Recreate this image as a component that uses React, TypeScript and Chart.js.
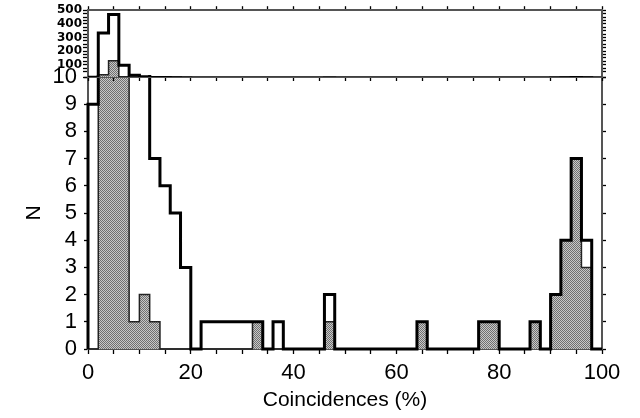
import React, { useEffect, useRef } from "react";
import { Chart, registerables } from "chart.js";

Chart.register(...registerables);

const BIN_WIDTH = 2;

// counts per 2% bin: 0-2, 2-4, ... 98-100
const allCounts = [
  9, 333, 468, 96, 22, 12, 7, 6, 5, 3,
  0, 1, 1, 1, 1, 1, 1, 0, 1, 0,
  0, 0, 0, 2, 0, 0, 0, 0, 0, 0,
  0, 0, 1, 0, 0, 0, 0, 0, 1, 1,
  0, 0, 0, 1, 0, 2, 4, 7, 4, 0,
];
const shadedCounts = [
  0, 26, 130, 12, 1, 2, 1, 0, 0, 0,
  0, 0, 0, 0, 0, 0, 1, 0, 0, 0,
  0, 0, 0, 1, 0, 0, 0, 0, 0, 0,
  0, 0, 1, 0, 0, 0, 0, 0, 1, 1,
  0, 0, 0, 1, 0, 2, 4, 7, 3, 0,
];

const xTickLabels = [0, 20, 40, 60, 80, 100];
const mainYTickLabels = [0, 1, 2, 3, 4, 5, 6, 7, 8, 9, 10];
const topYTickLabels = [100, 200, 300, 400, 500];

const FONT = "'Liberation Sans', Arial, sans-serif";
const AXIS = "#555";

// outline of a histogram as step points at the bin edges
const steps = (counts: number[]) => [
  { x: 0, y: 0 },
  ...counts.map((c, i) => ({ x: i * BIN_WIDTH, y: c })),
  { x: counts.length * BIN_WIDTH, y: 0 },
];

const makePattern = () => {
  const c = document.createElement("canvas");
  c.width = 2;
  c.height = 2;
  const g = c.getContext("2d")!;
  g.fillStyle = "#c8c8c8";
  g.fillRect(0, 0, 2, 2);
  g.fillStyle = "#707070";
  g.fillRect(0, 0, 1, 1);
  g.fillRect(1, 1, 1, 1);
  return g.createPattern(c, "repeat")!;
};

const makeDatasets = (pattern: CanvasPattern, clip: any): any[] => [
  {
    label: "all",
    data: steps(allCounts),
    stepped: true,
    borderColor: "#000",
    borderWidth: 3,
    borderJoinStyle: "miter",
    pointRadius: 0,
    fill: false,
    order: 0,
    clip,
  },
  {
    label: "shaded",
    data: steps(shadedCounts),
    stepped: true,
    borderColor: "#222",
    borderWidth: 1.5,
    backgroundColor: pattern,
    pointRadius: 0,
    fill: "origin",
    order: 1,
    clip,
  },
];

const grid = (tickLength: number) => ({
  drawOnChartArea: false,
  drawTicks: true,
  tickLength,
  tickColor: "#000",
  tickWidth: 1.3,
});
const border = { display: true, color: AXIS, width: 2 };

const baseOptions = {
  animation: false,
  responsive: false,
  maintainAspectRatio: false,
  events: [],
  plugins: { legend: { display: false }, tooltip: { enabled: false } },
};

const mainConfig = (pattern: CanvasPattern): any => ({
  type: "line",
  data: { datasets: makeDatasets(pattern, 2) },
  options: {
    ...baseOptions,
    layout: { padding: { top: 77, left: 0, right: 0, bottom: 0 } },
    scales: {
      x: {
        type: "linear",
        position: "bottom",
        min: 0,
        max: 100,
        ticks: {
          stepSize: 5,
          autoSkip: false,
          maxRotation: 0,
          padding: 6,
          color: "#000",
          font: { family: FONT, size: 22 },
          callback: (v: number) => (xTickLabels.includes(v) ? String(v) : ""),
        },
        grid: grid(5),
        border,
        title: {
          display: true,
          text: "Coincidences (%)",
          color: "#000",
          font: { family: FONT, size: 21 },
          padding: { top: 0, bottom: 5 },
        },
        afterFit: (s: any) => {
          s.height = 69;
        },
      },
      y: {
        type: "linear",
        position: "left",
        min: 0,
        max: 10,
        ticks: {
          stepSize: 1,
          autoSkip: false,
          padding: 7,
          color: "#000",
          font: { family: FONT, size: 22 },
          callback: (v: number) => (mainYTickLabels.includes(v) ? String(v) : ""),
        },
        grid: grid(4),
        border,
        title: {
          display: true,
          text: "N",
          color: "#000",
          font: { family: FONT, size: 21 },
          padding: { top: 22, bottom: 0 },
        },
        afterFit: (s: any) => {
          s.width = 88;
        },
      },
      y2: {
        type: "linear",
        position: "right",
        min: 0,
        max: 10,
        ticks: { stepSize: 1, autoSkip: false, callback: () => "" },
        grid: grid(4),
        border,
        afterFit: (s: any) => {
          s.width = 38;
        },
      },
    },
  },
});

const topConfig = (pattern: CanvasPattern): any => ({
  type: "line",
  data: { datasets: makeDatasets(pattern, 0) },
  options: {
    ...baseOptions,
    layout: { padding: 0 },
    scales: {
      x: {
        type: "linear",
        position: "bottom",
        min: 0,
        max: 100,
        ticks: { stepSize: 5, autoSkip: false, maxRotation: 0, callback: () => "" },
        grid: grid(4),
        border,
        afterFit: (s: any) => {
          s.height = 23;
        },
      },
      x2: {
        type: "linear",
        position: "top",
        min: 0,
        max: 100,
        ticks: { stepSize: 5, autoSkip: false, maxRotation: 0, callback: () => "" },
        grid: grid(4),
        border,
        afterFit: (s: any) => {
          s.height = 9;
        },
      },
      y: {
        type: "linear",
        position: "left",
        min: 10,
        max: 500,
        ticks: {
          stepSize: 25,
          autoSkip: false,
          padding: 1,
          color: "#000",
          font: { family: "'DejaVu Sans', sans-serif", size: 12, weight: "bold" },
          callback: (v: number) => (topYTickLabels.includes(v) ? String(v) : ""),
        },
        grid: grid(5),
        border,
        afterFit: (s: any) => {
          s.width = 88;
        },
      },
      y2: {
        type: "linear",
        position: "right",
        min: 10,
        max: 500,
        ticks: { stepSize: 25, autoSkip: false, callback: () => "" },
        grid: grid(4),
        border,
        afterFit: (s: any) => {
          s.width = 38;
        },
      },
    },
  },
});

export default function App() {
  const mainRef = useRef<HTMLCanvasElement>(null);
  const topRef = useRef<HTMLCanvasElement>(null);

  useEffect(() => {
    const pattern = makePattern();
    const main = new Chart(mainRef.current!, mainConfig(pattern));
    const top = new Chart(topRef.current!, topConfig(pattern));
    return () => {
      main.destroy();
      top.destroy();
    };
  }, []);

  return (
    <div
      style={{
        position: "fixed",
        left: 0,
        top: 0,
        width: 640,
        height: 418,
        background: "#fff",
      }}
    >
      <canvas
        ref={mainRef}
        width={640}
        height={418}
        style={{ position: "absolute", left: 0, top: 0 }}
      />
      <canvas
        ref={topRef}
        width={640}
        height={100}
        style={{ position: "absolute", left: 0, top: 0 }}
      />
    </div>
  );
}
